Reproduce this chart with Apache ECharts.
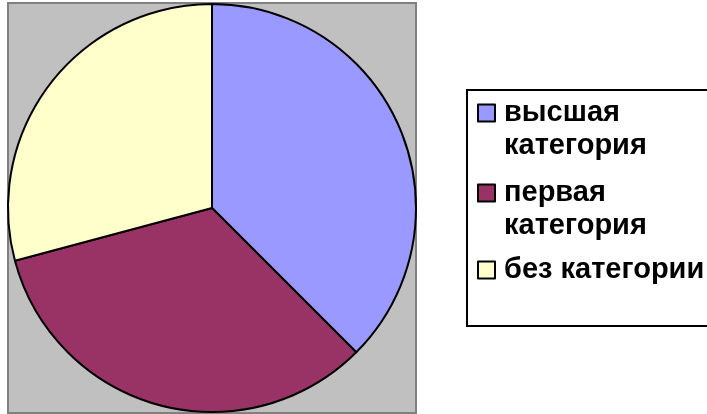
<!DOCTYPE html>
<html style="height: 100%">
<head>
  <meta charset="utf-8">
  <title>Категории</title>
  <script src="https://cdn.jsdelivr.net/npm/echarts@6/dist/echarts.min.js"></script>
</head>
<body style="height: 100%; margin: 0">
<div id="container" style="width: 707px; height: 414px"></div>
<script type="text/javascript">
  // данные
  const categories = ['высшая категория', 'первая категория', 'без категории'];
  const values = [9, 8, 7];
  const colors = ['#9999FF', '#993366', '#FFFFCC'];

  const chart = echarts.init(document.getElementById('container'));

  // подписи легенды: первая строка на уровне значка
  const wrapName = name => name.endsWith('категория') ? '\n' + name.replace(' ', '\n') : name;
  const legendTops = [63.5, 143.5, 253.5];

  const textStyle = {
    fontFamily: '"Liberation Sans", Arial, sans-serif',
    fontWeight: 'bold',
    fontSize: 29,
    lineHeight: 33,
    padding: [0, 0, 0, 4],
    color: '#000'
  };

  const option = {
    animation: false,
    backgroundColor: '#fff',
    graphic: [
      {
        type: 'rect', z: -10,
        shape: { x: 8, y: 3, width: 408, height: 410 },
        style: { fill: '#C0C0C0', stroke: '#808080', lineWidth: 2 }
      },
      {
        type: 'rect', z: -10,
        shape: { x: 467, y: 90, width: 260, height: 236 },
        style: { fill: '#fff', stroke: '#000', lineWidth: 2 }
      }
    ],
    legend: categories.map((name, i) => ({
      data: [name],
      left: 477,
      top: legendTops[i],
      orient: 'vertical',
      padding: 0,
      itemWidth: 17,
      itemHeight: 17,
      icon: 'rect',
      selectedMode: false,
      formatter: wrapName,
      itemStyle: { borderColor: '#000', borderWidth: 2 },
      textStyle: textStyle
    })),
    series: [
      {
        type: 'pie',
        center: [212, 208],
        radius: 204,
        startAngle: 90,
        clockwise: true,
        label: { show: false },
        labelLine: { show: false },
        emphasis: { disabled: true },
        itemStyle: { borderColor: '#000', borderWidth: 2 },
        data: categories.map((name, i) => ({
          name: name,
          value: values[i],
          itemStyle: { color: colors[i] }
        }))
      }
    ]
  };

  chart.setOption(option);
</script>
</body>
</html>
